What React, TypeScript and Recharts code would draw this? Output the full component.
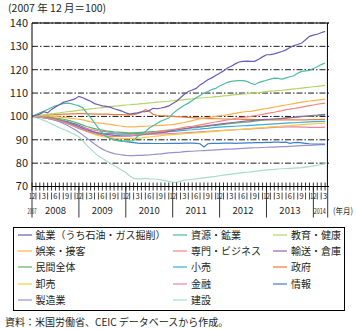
import React from 'react';
import { LineChart, Line, XAxis, YAxis, CartesianGrid, ReferenceLine } from 'recharts';

const FONT = "'Noto Sans CJK JP', 'Noto Sans', sans-serif";

const yearLabels = ['2007', '2008', '2009', '2010', '2011', '2012', '2013', '2014'];
const monthTickLabels: Record<number, string> = { 12: '12', 3: '3', 6: '6', 9: '9' };
const yTicks = [70, 80, 90, 100, 110, 120, 130, 140];
const monthIdx = Array.from({ length: 76 }, (_, i) => i); // Dec 2007 .. Mar 2014

const seriesNames = [
  '鉱業（うち石油・ガス掘削）', '資源・鉱業', '教育・健康',
  '娯楽・接客', '専門・ビジネス', '輸送・倉庫',
  '民間全体', '小売', '政府',
  '卸売', '金融', '情報',
  '製造業', '建設',
];
const seriesColors = [
  '#6a5db3', '#4dbd9f', '#b3d46a',
  '#f8b44c', '#ef8780', '#9a63a8',
  '#5bb65f', '#37acdf', '#ec7b3a',
  '#f3cf3a', '#ec80a6', '#3f7fcb',
  '#9c8fd0', '#a8dccb',
];

const oilGas = [100, 100.5, 101, 102, 101.5, 103, 104, 105, 106, 106.5, 107, 107.5, 108.6, 108, 107.2, 106.5, 105.5, 105, 104.5, 104.3, 104, 103.3, 102.8, 102.3, 101.5, 101, 101.3, 101.5, 102, 102, 102.5, 103.5, 103.3, 103.6, 104, 104.5, 105.5, 106.5, 108, 109.5, 110.7, 111.3, 112, 113.5, 114.5, 115.7, 116.5, 117.5, 118.5, 119.5, 120.7, 121.5, 122.5, 123.3, 123.6, 123.7, 123.6, 123.6, 124.5, 125.5, 126.4, 126.5, 126.8, 127.3, 127.8, 128.5, 129.5, 130.3, 130.8, 131.4, 132.8, 134.3, 134.8, 135.2, 135.8, 136.4];
const resources = [100, 100.8, 101.5, 102.2, 103, 103.8, 104.5, 105, 105.5, 105.7, 105.5, 105, 104.5, 103.7, 101.5, 99.5, 97.2, 95, 93, 91.5, 90.5, 90, 89.5, 89.3, 89.3, 89.5, 89.6, 91.5, 92.5, 93.5, 95, 96, 97, 98, 98.7, 99.3, 101.2, 102.5, 103.7, 104.8, 105.7, 106.8, 108, 109, 110, 110.7, 111.5, 112, 113, 113.8, 114.6, 115, 115.2, 115.3, 115.3, 115, 114.2, 113.6, 114.5, 115, 115.5, 116, 116.4, 116.3, 116, 116.5, 117, 117.4, 118.5, 119.3, 119.5, 119.7, 120.5, 121.3, 122.2, 122.9];
const education = [100, 100.2, 100.4, 100.7, 100.9, 101.1, 101.3, 101.5, 101.8, 102, 102.2, 102.4, 102.6, 102.8, 103, 103.2, 103.4, 103.6, 103.8, 104, 104.2, 104.4, 104.5, 104.7, 104.9, 105, 105.2, 105.3, 105.5, 105.6, 105.8, 105.9, 106.1, 106.2, 106.4, 106.5, 106.7, 106.9, 107, 107.2, 107.4, 107.5, 107.7, 107.9, 108, 108.2, 108.3, 108.5, 108.6, 108.8, 108.9, 109.1, 109.3, 109.4, 109.6, 109.7, 109.9, 110.1, 110.2, 110.4, 110.6, 110.8, 110.9, 111.1, 111.2, 111.4, 111.6, 111.8, 111.9, 112.1, 112.3, 112.5, 112.7, 112.9, 113.1, 113.3];
const leisure = [100, 100.2, 100.3, 100.2, 100.1, 100, 99.9, 99.8, 99.6, 99.4, 99.2, 99, 98.8, 98.5, 98.1, 97.7, 97.4, 97.2, 97, 96.8, 96.6, 96.3, 96, 95.8, 95.6, 95.5, 95.5, 95.6, 95.7, 95.8, 95.9, 96, 96.1, 96.2, 96.3, 96.4, 96.5, 96.8, 97.1, 97.4, 97.8, 98.2, 98.6, 99, 99.3, 99.5, 99.7, 100, 100.2, 100.4, 100.7, 101, 101.3, 101.6, 101.9, 102.1, 102.2, 102.5, 102.8, 103.1, 103.4, 103.7, 104, 104.3, 104.6, 104.9, 105.2, 105.5, 105.8, 106.1, 106.3, 106.6, 106.8, 107, 107.2, 107.4];
const professional = [100, 99.9, 99.7, 99.5, 99.2, 98.9, 98.5, 98.1, 97.6, 97, 96.4, 95.7, 95, 94.3, 93.7, 93.2, 92.7, 92.3, 92, 91.7, 91.5, 91.4, 91.4, 91.5, 91.6, 91.7, 91.9, 92.2, 92.4, 92.6, 92.9, 93.1, 93.4, 93.7, 94, 94.2, 94.4, 94.7, 95, 95.3, 95.6, 95.8, 96.1, 96.4, 96.7, 97, 97.3, 97.6, 97.9, 98.2, 98.5, 98.8, 99.1, 99.4, 99.6, 99.8, 100, 100.3, 100.6, 100.9, 101.2, 101.5, 101.8, 102.2, 102.5, 102.9, 103.1, 103.4, 103.7, 104, 104.3, 104.6, 104.9, 105.2, 105.5, 105.7];
const transport = [100, 100, 99.8, 99.6, 99.4, 99.1, 98.8, 98.4, 98, 97.5, 96.9, 96.3, 95.6, 94.9, 94.3, 93.7, 93.3, 92.9, 92.6, 92.3, 92.1, 91.9, 91.8, 91.7, 91.7, 91.7, 91.8, 91.9, 92.1, 92.3, 92.5, 92.7, 92.9, 93.1, 93.3, 93.6, 93.9, 94.2, 94.5, 94.8, 95, 95.3, 95.5, 95.7, 95.9, 96.1, 96.3, 96.5, 96.7, 96.9, 97.1, 97.3, 97.5, 97.7, 97.9, 98.1, 98.2, 98.4, 98.5, 98.6, 98.7, 98.8, 98.9, 99, 99.2, 99.3, 99.5, 99.6, 99.8, 100, 100.1, 100.3, 100.5, 100.6, 100.8, 100.9];
const privateTotal = [100, 100, 99.9, 99.8, 99.7, 99.5, 99.3, 99.1, 98.8, 98.4, 98, 97.5, 96.9, 96.3, 95.7, 95.2, 94.8, 94.4, 94.1, 93.8, 93.6, 93.4, 93.3, 93.2, 93.1, 93, 93, 93.1, 93.2, 93.3, 93.4, 93.5, 93.6, 93.7, 93.8, 94, 94.1, 94.3, 94.5, 94.7, 94.9, 95.1, 95.2, 95.4, 95.6, 95.8, 96, 96.2, 96.4, 96.6, 96.8, 97, 97.1, 97.3, 97.5, 97.6, 97.8, 98, 98.2, 98.4, 98.6, 98.7, 98.9, 99.1, 99.2, 99.4, 99.5, 99.6, 99.8, 99.9, 100, 100.1, 100.2, 100.3, 100.4, 100.5];
const retail = [100, 99.9, 99.7, 99.4, 99.1, 98.8, 98.4, 98, 97.5, 97, 96.3, 95.6, 94.9, 94.3, 93.8, 93.5, 93.2, 93, 92.8, 92.7, 92.6, 92.5, 92.4, 92.4, 92.4, 92.4, 92.5, 92.6, 92.7, 92.8, 92.9, 93, 93.1, 93.2, 93.3, 93.5, 93.6, 93.7, 93.9, 94, 94.2, 94.3, 94.5, 94.6, 94.8, 94.9, 95.1, 95.3, 95.4, 95.5, 95.6, 95.7, 95.8, 95.9, 96, 96.1, 96.2, 96.3, 96.4, 96.5, 96.6, 96.7, 96.8, 96.9, 97, 97.1, 97.2, 97.3, 97.4, 97.5, 97.6, 97.7, 97.8, 97.8, 97.9, 97.9];
const government = [100, 100.2, 100.3, 100.5, 100.6, 100.7, 100.8, 100.9, 101, 101, 101.1, 101.1, 101.2, 101.2, 101.1, 101.1, 101, 101, 101, 101, 100.9, 100.8, 100.8, 100.8, 100.7, 100.7, 100.8, 101.2, 101.8, 102.9, 102.2, 100.9, 100.5, 100.3, 100.2, 100.1, 100, 99.9, 99.8, 99.7, 99.6, 99.5, 99.4, 99.3, 99.2, 99.1, 99.1, 99, 99, 98.9, 98.9, 98.8, 98.8, 98.8, 98.7, 98.7, 98.7, 98.6, 98.6, 98.6, 98.5, 98.5, 98.5, 98.5, 98.5, 98.5, 98.5, 98.5, 98.5, 98.5, 98.5, 98.6, 98.6, 98.6, 98.7, 98.7];
const wholesale = [100, 100, 99.9, 99.7, 99.5, 99.2, 98.9, 98.5, 98, 97.4, 96.7, 96, 95.2, 94.4, 93.6, 92.9, 92.3, 91.8, 91.4, 91.1, 90.9, 90.7, 90.6, 90.5, 90.5, 90.5, 90.6, 90.7, 90.8, 91, 91.2, 91.4, 91.6, 91.8, 92, 92.1, 92.2, 92.3, 92.4, 92.6, 92.7, 92.8, 93, 93.1, 93.2, 93.4, 93.5, 93.6, 93.8, 93.9, 94, 94.2, 94.3, 94.4, 94.6, 94.7, 94.8, 95, 95.1, 95.2, 95.3, 95.5, 95.6, 95.7, 95.9, 96, 96.1, 96.3, 96.4, 96.5, 96.6, 96.7, 96.8, 96.9, 97, 97.1];
const finance = [100, 99.9, 99.7, 99.5, 99.2, 98.9, 98.5, 98.1, 97.7, 97.2, 96.7, 96.2, 95.7, 95.2, 94.8, 94.4, 94.1, 93.8, 93.6, 93.4, 93.2, 93, 92.9, 92.8, 92.7, 92.6, 92.5, 92.5, 92.4, 92.4, 92.4, 92.4, 92.4, 92.5, 92.5, 92.6, 92.7, 92.8, 92.9, 93, 93.1, 93.2, 93.3, 93.4, 93.5, 93.6, 93.7, 93.8, 93.9, 94, 94.1, 94.2, 94.3, 94.4, 94.5, 94.6, 94.7, 94.8, 94.9, 95, 95.1, 95.2, 95.3, 95.4, 95.4, 95.5, 95.5, 95.5, 95.5, 95.4, 95.4, 95.3, 95.3, 95.3, 95.3, 95.4];
const information = [100, 100.1, 100, 99.8, 99.6, 99.3, 99, 98.6, 98.2, 97.8, 97.3, 96.8, 96.2, 95.5, 94.8, 94, 93.3, 92.6, 92, 91.4, 90.8, 90.3, 89.9, 89.5, 89.2, 89, 88.8, 88.6, 88.5, 88.5, 88.5, 88.4, 88.4, 88.4, 88.4, 88.5, 88.5, 88.5, 88.5, 88.6, 88.6, 88.6, 88.5, 88.3, 86.9, 88.3, 88.5, 88.5, 88.5, 88.6, 88.6, 88.6, 88.5, 88.6, 88.6, 88.7, 88.7, 88.8, 88.8, 88.8, 88.9, 88.9, 89, 89, 88.9, 89, 88.5, 88.8, 88.9, 88.7, 88.5, 88.3, 88.2, 88.2, 88.2, 88.2];
const manufacturing = [100, 99.9, 99.7, 99.5, 99.2, 98.8, 98.3, 97.7, 97, 96.2, 95.3, 94.3, 93.2, 92, 90.8, 89.5, 88.2, 87, 86, 85.2, 84.6, 84.1, 83.8, 83.5, 83.3, 83.2, 83.2, 83.3, 83.3, 83.4, 83.5, 83.7, 83.9, 84, 84.2, 84.4, 84.5, 84.6, 84.7, 84.9, 85, 85.1, 85.2, 85.3, 85.4, 85.5, 85.6, 85.7, 85.8, 85.9, 86, 86, 86.1, 86.2, 86.3, 86.4, 86.5, 86.6, 86.6, 86.7, 86.8, 86.9, 86.9, 87, 87.1, 87.1, 87.2, 87.3, 87.4, 87.5, 87.6, 87.6, 87.7, 87.8, 87.9, 87.9];
const construction = [100, 99.5, 99, 98.3, 97.6, 96.8, 96, 95.2, 94.5, 93.8, 93, 92.2, 91.3, 89.5, 87.7, 86, 84.5, 83, 82, 81, 80, 79, 78, 77, 76, 74.5, 73.5, 73.3, 73.3, 73.5, 73.3, 73.2, 73.1, 72.8, 72.5, 72.2, 71.9, 71.8, 72.3, 72.7, 72.9, 73.1, 73.3, 73.5, 73.7, 73.9, 74.1, 74.3, 74.6, 74.9, 75.1, 75.3, 75.5, 75.7, 75.9, 76.1, 76.3, 76.5, 76.7, 76.9, 77.1, 77.2, 77.3, 77.5, 77.6, 77.7, 77.8, 77.9, 78, 78.1, 78.3, 78.5, 78.8, 79.1, 79.4, 79.8];

const seriesValues = [
  oilGas, resources, education,
  leisure, professional, transport,
  privateTotal, retail, government,
  wholesale, finance, information,
  manufacturing, construction,
];

const data = monthIdx.map((i) => {
  const row: Record<string, number> = { idx: i };
  seriesValues.forEach((vals, k) => {
    row['s' + k] = vals[i];
  });
  return row;
});

const X_MAX = 75.6;

function MonthTick(props: any) {
  const { x, y, payload } = props;
  const i: number = payload.value;
  const m = ((11 + i) % 12) + 1;
  const label = monthTickLabels[m];
  const year = yearLabels[Math.floor((i + 11) / 12)];
  const parts: React.ReactNode[] = [];
  parts.push(<line key="t" x1={x} x2={x} y1={y - 4} y2={y + 4} stroke="#000" strokeWidth={0.8} />);
  if (!label) {
    parts.push(<line key="t2" x1={x} x2={x} y1={y + 6} y2={y + 13} stroke="#000" strokeWidth={0.7} />);
  } else {
    parts.push(
      <text key="ml" x={x} y={y + 12.5} textAnchor="middle" fontSize={7.5} fill="#231f20" fontFamily={FONT}
        textLength={label.length > 1 ? 6.5 : undefined} lengthAdjust="spacingAndGlyphs">
        {label}
      </text>
    );
  }
  if (m === 12) {
    parts.push(<line key="sep" x1={x} x2={x} y1={y} y2={y + 31} stroke="#000" strokeWidth={0.8} />);
  }
  if (i === 0) {
    parts.push(
      <text key="y0" x={x} y={y + 27} textAnchor="middle" fontSize={7.5} fill="#231f20" fontFamily={FONT}
        textLength={9} lengthAdjust="spacingAndGlyphs">{yearLabels[0]}</text>
    );
  } else if (m === 6) {
    parts.push(
      <text key="yl" x={x} y={y + 27} textAnchor="middle" fontSize={9.5} fill="#231f20" fontFamily={FONT}>{year}</text>
    );
  } else if (i === 74) {
    parts.push(
      <text key="yl" x={x - 1.5} y={y + 27} textAnchor="middle" fontSize={8} fill="#231f20" fontFamily={FONT}
        textLength={12} lengthAdjust="spacingAndGlyphs">{year}</text>
    );
  }
  if (i === 75) {
    parts.push(<line key="end" x1={x + 2.6} x2={x + 2.6} y1={y} y2={y + 31} stroke="#000" strokeWidth={0.8} />);
    parts.push(
      <text key="unit" x={x + 8} y={y + 27} textAnchor="start" fontSize={8.5} fill="#231f20" fontFamily={FONT}
        textLength={20} lengthAdjust="spacingAndGlyphs">(年月)</text>
    );
  }
  return <g>{parts}</g>;
}

const legendCols = [3.5, 159, 259];

export default function App() {
  return (
    <div style={{ position: 'absolute', left: 0, top: 0, width: 356, height: 329, background: '#fff', fontFamily: FONT, color: '#231f20' }}>
      <div style={{ position: 'absolute', left: 8, top: 0, fontSize: 10.5, lineHeight: '15px', whiteSpace: 'nowrap' }}>
        (2007 年 12 月＝100)
      </div>
      <div style={{ position: 'absolute', left: 0, top: 0 }}>
        <LineChart width={356} height={225} data={data} margin={{ top: 23, right: 27, left: 0, bottom: 2.5 }}>
          <CartesianGrid horizontal={true} vertical={false} stroke="#000" strokeWidth={0.9} strokeDasharray="6 2 1.5 2" />
          <XAxis
            dataKey="idx"
            type="number"
            domain={[0, X_MAX]}
            ticks={monthIdx}
            interval={0}
            tickSize={0}
            tickMargin={0}
            height={36}
            axisLine={{ stroke: '#000', strokeWidth: 1 }}
            tickLine={false}
            tick={<MonthTick />}
            allowDecimals={false}
          />
          <YAxis
            domain={[70, 140]}
            ticks={yTicks}
            interval={0}
            width={32}
            tickSize={0}
            tickMargin={4}
            tickLine={false}
            axisLine={{ stroke: '#000', strokeWidth: 1 }}
            tick={{ fontSize: 11, fill: '#231f20', fontFamily: FONT }}
          />
          <ReferenceLine y={140} stroke="#000" strokeWidth={1} />
          <ReferenceLine x={X_MAX} stroke="#000" strokeWidth={1} />
          {seriesValues.map((_, k) => {
            const idx = seriesValues.length - 1 - k;
            return (
              <Line
                key={idx}
                type="linear"
                dataKey={'s' + idx}
                name={seriesNames[idx]}
                stroke={seriesColors[idx]}
                strokeWidth={1.2}
                dot={false}
                activeDot={false}
                isAnimationActive={false}
              />
            );
          })}
        </LineChart>
      </div>
      <div style={{ position: 'absolute', left: 13, top: 226.5, width: 330, height: 82, border: '1px solid #000' }}>
        {seriesNames.map((name, k) => {
          const row = Math.floor(k / 3);
          const col = k % 3;
          return (
            <div key={name} style={{ position: 'absolute', left: legendCols[col], top: -1 + row * 16.4, height: 16, display: 'flex', alignItems: 'center', whiteSpace: 'nowrap', fontSize: 10, lineHeight: '16px' }}>
              <svg width={14} height={16} style={{ display: 'block' }}>
                <line x1={0} x2={14} y1={8} y2={8} stroke={seriesColors[k]} strokeWidth={1.2} />
              </svg>
              <span style={{ marginLeft: 4 }}>{name}</span>
            </div>
          );
        })}
      </div>
      <div style={{ position: 'absolute', left: 5, top: 314, fontSize: 10, lineHeight: '15px', whiteSpace: 'nowrap' }}>
        資料：米国労働省、CEIC データベースから作成。
      </div>
    </div>
  );
}
